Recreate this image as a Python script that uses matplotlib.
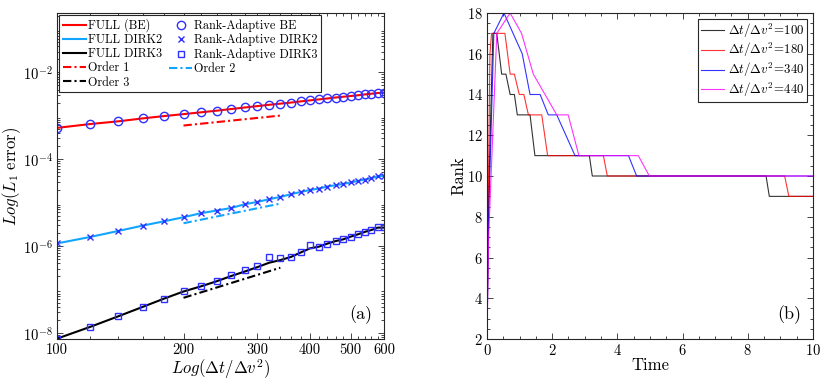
import matplotlib
matplotlib.use('Agg')
import matplotlib.pyplot as plt
from matplotlib.ticker import FixedLocator, FixedFormatter, NullFormatter, MultipleLocator

plt.rcParams.update({
    'font.family': 'serif',
    'font.serif': ['cmr10'],
    'mathtext.fontset': 'cm',
    'axes.formatter.use_mathtext': True,
    'axes.unicode_minus': False,
})

# ---------------- data: panel (a) ----------------
dt_ratio = [100, 120, 140, 160, 180, 200, 220, 240, 260, 280, 300, 320, 340,
            360, 380, 400, 420, 440, 460, 480, 500, 520, 540, 560, 580, 600]

err_full_be = [5.26e-4, 6.45e-4, 7.45e-4, 8.70e-4, 9.85e-4, 1.09e-3, 1.20e-3,
               1.31e-3, 1.43e-3, 1.55e-3, 1.67e-3, 1.79e-3, 1.90e-3, 2.01e-3,
               2.14e-3, 2.26e-3, 2.38e-3, 2.50e-3, 2.63e-3, 2.74e-3, 2.85e-3,
               2.96e-3, 3.10e-3, 3.22e-3, 3.34e-3, 3.40e-3]
err_ra_be = list(err_full_be)

err_full_dirk2 = [1.15e-6, 1.62e-6, 2.23e-6, 2.96e-6, 3.72e-6, 4.61e-6, 5.70e-6,
                  6.57e-6, 7.55e-6, 9.18e-6, 1.04e-5, 1.20e-5, 1.35e-5, 1.56e-5,
                  1.76e-5, 1.95e-5, 2.11e-5, 2.35e-5, 2.52e-5, 2.70e-5, 2.91e-5,
                  3.16e-5, 3.40e-5, 3.65e-5, 4.06e-5, 4.12e-5]
err_ra_dirk2 = list(err_full_dirk2)

err_full_dirk3 = [7.38e-9, 1.38e-8, 2.42e-8, 3.98e-8, 6.19e-8, 8.99e-8, 1.18e-7,
                  1.55e-7, 2.05e-7, 2.60e-7, 3.28e-7, 4.14e-7, 4.75e-7, 5.60e-7,
                  7.10e-7, 8.85e-7, 9.68e-7, 1.14e-6, 1.30e-6, 1.43e-6, 1.65e-6,
                  1.86e-6, 2.12e-6, 2.34e-6, 2.66e-6, 2.66e-6]
err_ra_dirk3 = [7.38e-9, 1.38e-8, 2.42e-8, 3.98e-8, 6.19e-8, 8.99e-8, 1.22e-7,
                1.59e-7, 2.18e-7, 2.75e-7, 3.45e-7, 5.57e-7, 5.39e-7, 5.69e-7,
                7.43e-7, 1.05e-6, 9.68e-7, 1.14e-6, 1.30e-6, 1.43e-6, 1.65e-6,
                1.86e-6, 2.15e-6, 2.34e-6, 2.81e-6, 2.75e-6]

order_x = [200, 340]
order1_y = [5.96e-4, 1.01e-3]
order2_y = [3.35e-6, 9.5e-6]
order3_y = [6.43e-8, 3.17e-7]

x_ticks = [100, 200, 300, 400, 500, 600]
y_ticks = [1e-8, 1e-6, 1e-4, 1e-2]
y_tick_labels = [r'$10^{-8}$', r'$10^{-6}$', r'$10^{-4}$', r'$10^{-2}$']

# ---------------- data: panel (b) ----------------
t_100 = [0, 0.05, 0.18, 0.30, 0.45, 0.58, 0.71, 0.84, 0.93, 1.32, 1.47, 3.14, 3.23, 8.56, 8.66, 10]
r_100 = [2, 9, 17, 17, 15, 15, 14, 14, 13, 13, 11, 11, 10, 10, 9, 9]

t_180 = [0, 0.04, 0.09, 0.14, 0.55, 0.71, 0.84, 0.99, 1.13, 1.27, 1.68, 1.86, 3.57, 3.69, 9.13, 9.26, 10]
r_180 = [2, 9, 16, 17, 17, 15, 15, 14, 14, 13, 13, 11, 11, 10, 10, 9, 9]

t_340 = [0, 0.05, 0.21, 0.52, 1.08, 1.32, 1.63, 1.88, 2.14, 2.70, 4.34, 4.59, 10]
r_340 = [2, 8, 17, 18, 16, 14, 14, 13, 13, 11, 11, 10, 10]

t_440 = [0, 0.05, 0.30, 0.71, 1.06, 1.42, 2.14, 2.49, 2.82, 4.64, 4.98, 10]
r_440 = [2, 7, 17, 18, 17, 15, 13, 13, 11, 11, 10, 10]

rank_labels = [r'$\Delta t/\Delta v^2\!=\!100$', r'$\Delta t/\Delta v^2\!=\!180$',
               r'$\Delta t/\Delta v^2\!=\!340$', r'$\Delta t/\Delta v^2\!=\!440$']

# ---------------- figure ----------------
fig = plt.figure(figsize=(8.31, 3.85), dpi=100)
ax1 = fig.add_axes([57/831, 1-339/385, 327/831, 326/385])
ax2 = fig.add_axes([487/831, 1-339/385, 326/831, 326/385])

RED = '#ff0000'
LBLUE = '#12a5ff'
MBLUE = '#3030ff'
AXC = '#262626'

ax1.plot(dt_ratio, err_full_be, '-', color=RED, lw=1.5, label='FULL (BE)')
ax1.plot(dt_ratio, err_full_dirk2, '-', color=LBLUE, lw=1.5, label='FULL DIRK2')
ax1.plot(dt_ratio, err_full_dirk3, '-', color='k', lw=1.5, label='FULL DIRK3')
ax1.plot(order_x, order1_y, '-.', color=RED, lw=1.5, dashes=(4, 1.5, 1, 1.5), label='Order 1')
ax1.plot(order_x, order3_y, '-.', color='k', lw=1.5, dashes=(4, 1.5, 1, 1.5), label='Order 3')
ax1.plot(dt_ratio, err_ra_be, 'o', mfc='none', mec=MBLUE, ms=6, mew=1.0, label='Rank-Adaptive BE')
ax1.plot(dt_ratio, err_ra_dirk2, 'x', color=MBLUE, ms=4, mew=1.0, label='Rank-Adaptive DIRK2')
ax1.plot(dt_ratio, err_ra_dirk3, 's', mfc='none', mec=MBLUE, ms=5, mew=1.0, label='Rank-Adaptive DIRK3')
ax1.plot(order_x, order2_y, '-.', color=LBLUE, lw=1.5, dashes=(4, 1.5, 1, 1.5), label='Order 2')

ax1.set_xscale('log')
ax1.set_yscale('log')
ax1.set_xlim(100, 600)
ax1.set_ylim(10**-8.14, 10**-0.634)
ax1.xaxis.set_major_locator(FixedLocator(x_ticks))
ax1.xaxis.set_major_formatter(FixedFormatter([str(v) for v in x_ticks]))
ax1.xaxis.set_minor_locator(FixedLocator([v for v in dt_ratio if v not in x_ticks]))
ax1.xaxis.set_minor_formatter(NullFormatter())
ax1.yaxis.set_major_locator(FixedLocator(y_ticks))
ax1.yaxis.set_major_formatter(FixedFormatter(y_tick_labels))
ax1.set_xlabel(r'$Log(\Delta t/\Delta v^2)$', fontsize=12, labelpad=0)
ax1.set_ylabel(r'$Log(L_1\ \mathrm{error})$', fontsize=12, labelpad=0)
ax1.text(0.965, 0.045, '(a)', transform=ax1.transAxes, ha='right', va='bottom', fontsize=13)
leg1 = ax1.legend(loc='upper left', ncol=2, fontsize=8.8, handlelength=1.9,
                  handletextpad=0.15, columnspacing=0.6, labelspacing=0.16,
                  borderpad=0.25, borderaxespad=0.2, frameon=True, fancybox=False,
                  edgecolor=AXC, framealpha=1)
leg1.get_frame().set_linewidth(0.8)

ax2.plot(t_100, r_100, '-', color='k', lw=0.8, alpha=0.8, label=rank_labels[0])
ax2.plot(t_180, r_180, '-', color='#ff0000', lw=0.8, alpha=0.8, label=rank_labels[1])
ax2.plot(t_340, r_340, '-', color='#0000ff', lw=0.8, alpha=0.8, label=rank_labels[2])
ax2.plot(t_440, r_440, '-', color='#ff00ff', lw=0.8, alpha=0.8, label=rank_labels[3])
ax2.set_xlim(0, 10)
ax2.set_ylim(2, 18)
ax2.xaxis.set_major_locator(MultipleLocator(2))
ax2.xaxis.set_minor_locator(MultipleLocator(0.5))
ax2.yaxis.set_major_locator(MultipleLocator(2))
ax2.yaxis.set_minor_locator(MultipleLocator(0.5))
ax2.set_xlabel('Time', fontsize=12, labelpad=0)
ax2.set_ylabel('Rank', fontsize=12, labelpad=0)
ax2.text(0.965, 0.045, '(b)', transform=ax2.transAxes, ha='right', va='bottom', fontsize=13)
leg2 = ax2.legend(loc='upper right', fontsize=9.3, handlelength=1.8, handletextpad=0.3,
                  labelspacing=0.12, borderpad=0.2, borderaxespad=0.45, frameon=True,
                  fancybox=False, edgecolor=AXC, framealpha=1)
leg2.get_frame().set_linewidth(0.8)

for ax in (ax1, ax2):
    for s in ax.spines.values():
        s.set_color(AXC)
        s.set_linewidth(0.8)
    ax.tick_params(which='both', direction='in', top=True, right=True, colors=AXC,
                   labelcolor='k', labelsize=10.5, width=0.6, pad=3)
    ax.tick_params(which='major', length=4)
    ax.tick_params(which='minor', length=2)

fig.savefig('out.png', dpi=100)
